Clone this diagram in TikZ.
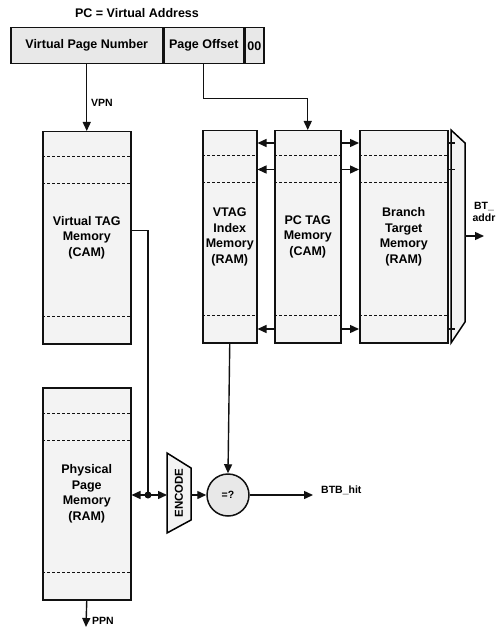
\documentclass[tikz,border=0pt]{standalone}
\usepackage{fontspec}
\setsansfont{Liberation Sans}
\usepackage{tikz}
\usetikzlibrary{arrows.meta,positioning,calc}
\definecolor{ink}{HTML}{111111}
\definecolor{stipple}{HTML}{F3F3F3}
\definecolor{barfill}{HTML}{E8E8E8}

\begin{document}
\begin{tikzpicture}[x=1pt,y=-1pt,font=\sffamily\bfseries\fontsize{12.5}{15.5}\selectfont,
    mem/.style={draw=ink,fill=stipple,line width=1.5pt,anchor=north west,align=center,inner sep=0pt},
    field/.style={draw=ink,fill=barfill,line width=1.5pt,minimum height=36pt,inner sep=0pt},
    lbl/.style={font=\sffamily\bfseries\fontsize{10.5}{11.5}\selectfont,inner sep=0pt},
    wire/.style={line width=1.4pt,color=ink},
    arr/.style={wire,-{Triangle[length=9pt,width=8pt]}},
    row/.style={line width=1pt,densely dashed,color=ink}]
  \useasboundingbox (0,0) rectangle (500,628);

  % address register
  \node (title) at (137,13) {PC = Virtual Address};
  \node[field,anchor=north west,minimum width=152pt] (vpnf) at (10,27) {Virtual Page Number};
  \node[field,minimum width=79pt,right=0pt of vpnf] (pofs) {Page Offset};
  \node[field,minimum width=19pt,right=0pt of pofs] (zz) {00};

  % memories
  \foreach \nm/\x/\y/\w/\txt in {
    vtag/42/131/88/{Virtual TAG\\Memory\\(CAM)},
    ppm/42/387/88/{Physical\\Page\\Memory\\(RAM)},
    vtagidx/202/130/54/{VTAG\\Index\\Memory\\(RAM)},
    pctag/274/130/66/{PC TAG\\Memory\\(CAM)},
    bt/359/130/88/{Branch\\Target\\Memory\\(RAM)}} {
    \node[mem,minimum width=\w pt,minimum height=212pt] (\nm) at (\x,\y) {\txt};
    \draw[row] ([yshift=-26pt]\nm.north west) -- ([yshift=-26pt]\nm.north east);
    \draw[row] ([yshift=-53pt]\nm.north west) -- ([yshift=-53pt]\nm.north east);
    \draw[row] ([yshift=28pt]\nm.south west) -- ([yshift=28pt]\nm.south east);
  }

  % output mux of the branch target memory
  \draw[line width=1.5pt,fill=stipple] (451,130) -- (465,143) -- (465,322) -- (451,343) -- cycle;
  \coordinate (muxout) at (465,236);
  \node[lbl,align=center] (addr) at (484,212) {BT\_\\addr};
  \draw[arr] (muxout) -- (muxout -| addr.center);

  % row match lines
  \foreach \dy in {13,39.5,199} {
    \draw[arr] ([yshift=-\dy pt]pctag.north west) -- ([yshift=-\dy pt]vtagidx.north east);
    \draw[arr] ([yshift=-\dy pt]pctag.north east) -- ([yshift=-\dy pt]bt.north west);
    \draw[wire] ([yshift=-\dy pt]bt.north east) -- ++(6,0);
  }

  % address fields
  \draw[arr] (vpnf.south) -- (vpnf.south |- vtag.north);
  \node[lbl,anchor=west] (vpnlbl) at (91,103) {VPN};
  \draw[arr] (pofs.south) -- ++(0,34) -| (pctag.north);

  % encoder and compare
  \draw[line width=1.5pt,fill=stipple] (167,453) -- (191,468) -- (191,520) -- (167,533) -- cycle;
  \node[lbl,font=\sffamily\bfseries\fontsize{11.5}{12}\selectfont,rotate=90] (enc) at (179,493) {ENCODE};
  \coordinate (encin) at (167,495);
  \coordinate (encout) at (191,495);
  \node[lbl,draw=ink,fill=barfill,circle,line width=1.5pt,minimum size=42pt] (cmp) at (228,495) {=?};

  \coordinate (jn) at (148,495);
  \draw[wire] ([yshift=7pt]vtag.east) -| (jn);
  \draw[arr] (jn) -- (jn -| ppm.east);
  \draw[arr] (jn) -- (encin);
  \fill[ink] (jn) circle (3.5pt);

  \draw[arr] (encout) -- (cmp.west);
  \draw[arr] (vtagidx.south) -- (cmp.north);
  \node[lbl,anchor=west] (hit) at (321,490) {BTB\_hit};
  \draw[arr,shorten >=8pt] (cmp.east) -- (cmp.east -| hit.west);

  % physical page out
  \node[lbl,anchor=west] (ppn) at (92,621) {PPN};
  \coordinate (ppnout) at (86,627);
  \draw[arr] (ppm.south) -- (ppnout);
\end{tikzpicture}
\end{document}
